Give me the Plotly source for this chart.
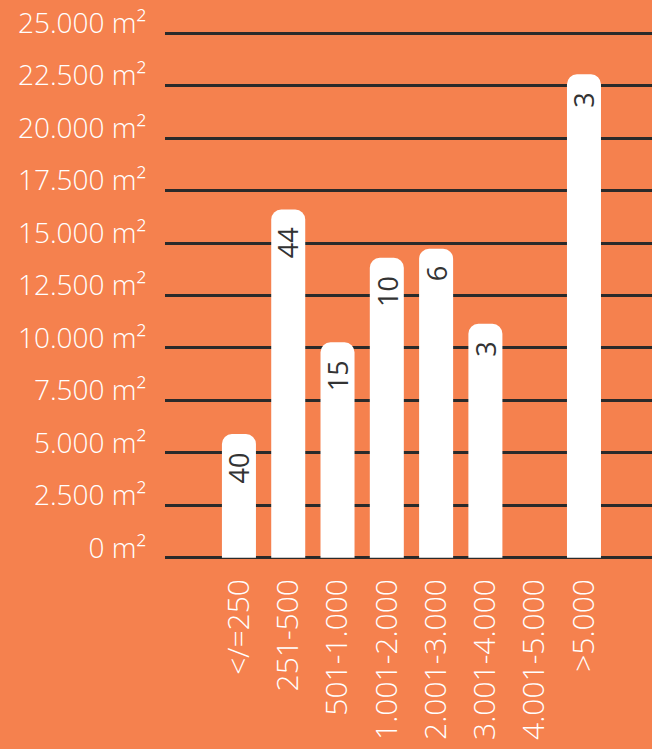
import plotly.graph_objects as go

# Floor-area classes (m²) and total area per class
categories = ["</=250", "251-500", "501-1.000", "1.001-2.000",
              "2.001-3.000", "3.001-4.000", "4.001-5.000", ">5.000"]
area_m2 = [5900, 16600, 10270, 14300, 14730, 11150, 0, 23040]
counts = ["40", "44", "15", "10", "6", "3", "", "3"]

y_ticks = [0, 2500, 5000, 7500, 10000, 12500, 15000, 17500, 20000, 22500, 25000]
y_tick_text = ["0 m²", "2.500 m²", "5.000 m²", "7.500 m²", "10.000 m²", "12.500 m²",
               "15.000 m²", "17.500 m²", "20.000 m²", "22.500 m²", "25.000 m²"]

ORANGE = "#F5814E"
GRID = "#2A2A2A"
LABEL_FONT = "Open Sans"

xpos = list(range(len(categories)))

fig = go.Figure()
fig.add_trace(go.Bar(
    x=xpos, y=area_m2, width=0.69,
    marker=dict(color="white", line=dict(width=0)),
    hoverinfo="skip",
))

# Counts written vertically just under each bar top
for xi, val, txt in zip(xpos, area_m2, counts):
    if not txt:
        continue
    fig.add_annotation(
        x=xi, y=val, xref="x", yref="y", text=txt, showarrow=False,
        textangle=-90, yanchor="top", yshift=-16,
        font=dict(family=LABEL_FONT, size=27, color="#333333", weight=400),
    )

fig.update_layout(
    width=652, height=749,
    margin=dict(l=165, r=0, t=29.3, b=187.3),
    paper_bgcolor=ORANGE, plot_bgcolor=ORANGE,
    showlegend=False,
    barcornerradius=10,
    xaxis=dict(
        range=[-1.5, 8.38], tickmode="array", tickvals=xpos, ticktext=categories,
        tickangle=-90, showgrid=False, zeroline=False, showline=False,
        ticks="", ticklabelstandoff=10,
        tickfont=dict(family=LABEL_FONT, size=30, color="white", weight=300),
        fixedrange=True,
    ),
    yaxis=dict(
        range=[-200, 25200], tickmode="array", tickvals=y_ticks, ticktext=y_tick_text,
        showgrid=True, gridcolor=GRID, gridwidth=3,
        zeroline=True, zerolinecolor=GRID, zerolinewidth=3,
        showline=False, ticks="", ticklabelstandoff=18, ticklabelshift=-10,
        tickfont=dict(family=LABEL_FONT, size=28, color="white", weight=300),
        fixedrange=True,
    ),
)

fig.write_html("out.html", config={"displayModeBar": False})
